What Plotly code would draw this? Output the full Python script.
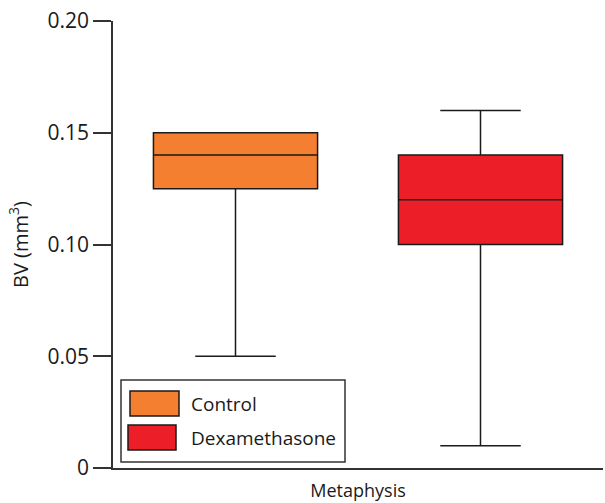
import plotly.graph_objects as go

# ---- data ----
groups = ["Control", "Dexamethasone"]
category = ["Metaphysis"]
lower_fence = [0.05, 0.01]
q1 = [0.125, 0.10]
median = [0.14, 0.12]
q3 = [0.15, 0.14]
upper_fence = [0.15, 0.16]
colors = ["#F47F30", "#EC1E28"]
y_ticks = [0, 0.05, 0.10, 0.15, 0.20]
y_tick_labels = ["0", "0.05", "0.10", "0.15", "0.20"]

FONT = "Open Sans"
L, R, T, B = 113, 2, 21, 35
W, H = 605, 503
PW, PH = W - L - R, H - T - B

fig = go.Figure()
for i, g in enumerate(groups):
    fig.add_trace(go.Box(
        name=g, x=category,
        q1=[q1[i]], median=[median[i]], q3=[q3[i]],
        lowerfence=[lower_fence[i]], upperfence=[upper_fence[i]],
        fillcolor=colors[i], line=dict(color="#1a1a1a", width=1.5),
        whiskerwidth=0.49, showlegend=False, hoverinfo="skip",
    ))

# custom legend (paper coords from pixel positions)
def px(xp):
    return (xp - L) / PW

def py(yp):
    return (H - B - yp) / PH

shapes = [dict(type="rect", xref="paper", yref="paper",
               x0=px(121), x1=px(345), y0=py(462), y1=py(380),
               line=dict(color="#333", width=1.5), fillcolor="white", layer="above")]
annotations = []
sw = [(130, 179, 391, 416), (128, 176, 425, 450)]
for i, g in enumerate(groups):
    x0, x1, y0, y1 = sw[i]
    shapes.append(dict(type="rect", xref="paper", yref="paper",
                       x0=px(x0), x1=px(x1), y0=py(y1), y1=py(y0),
                       line=dict(color="#1a1a1a", width=1.5), fillcolor=colors[i], layer="above"))
    annotations.append(dict(xref="paper", yref="paper", x=px(189), y=py((y0 + y1) / 2),
                            text=g, showarrow=False, xanchor="left", yanchor="middle",
                            font=dict(family=FONT, size=19, color="#1a1a1a")))

fig.update_layout(
    width=W, height=H,
    margin=dict(l=L, r=R, t=T, b=B),
    paper_bgcolor="white", plot_bgcolor="white",
    boxmode="group", boxgap=0.0, boxgroupgap=0.33,
    font=dict(family=FONT, size=18, color="#1a1a1a"),
    shapes=shapes, annotations=annotations,
    xaxis=dict(showline=True, linecolor="#333", linewidth=1.5, ticks="",
               showgrid=False, zeroline=False, tickfont=dict(size=18),
               ticklabelstandoff=6),
    yaxis=dict(range=[0, 0.2], tickvals=y_ticks, ticktext=y_tick_labels,
               showline=True, linecolor="#333", linewidth=1.5,
               ticks="outside", ticklen=18, tickwidth=1.5, tickcolor="#333",
               showgrid=False, zeroline=False, tickfont=dict(size=21),
               title=dict(text="BV (mm<sup>3</sup>)", font=dict(size=20), standoff=14)),
)

fig.write_html("out.html", config={"displayModeBar": False},
               post_script="document.body.style.margin='0';document.body.style.overflow='hidden';")
